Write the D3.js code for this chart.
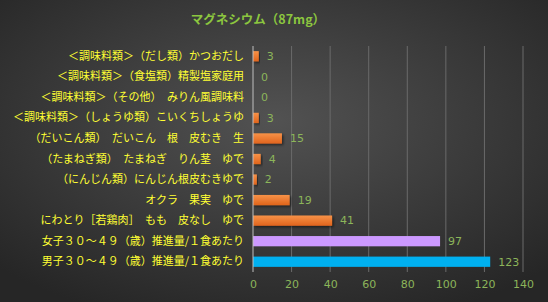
<!DOCTYPE html>
<html>
<head>
<meta charset="utf-8">
<script src="https://cdn.jsdelivr.net/npm/d3@7"></script>
<style>
  body { margin: 0; background: #2b2b2b; }
  svg { display: block; }
</style>
</head>
<body>
<div id="chart"></div>
<script>
const title = "マグネシウム（87mg）";
const categories = [
  "＜調味料類＞（だし類）かつおだし",
  "＜調味料類＞（食塩類）精製塩家庭用",
  "＜調味料類＞（その他）　みりん風調味料",
  "＜調味料類＞（しょうゆ類）こいくちしょうゆ",
  "（だいこん類）　だいこん　根　皮むき　生",
  "（たまねぎ類）　たまねぎ　りん茎　ゆで",
  "（にんじん類）にんじん根皮むきゆで",
  "オクラ　果実　ゆで",
  "にわとり［若鶏肉］　もも　皮なし　ゆで",
  "女子３０～４９（歳）推進量/１食あたり",
  "男子３０～４９（歳）推進量/１食あたり"
];
const values = [3, 0, 0, 3, 15, 4, 2, 19, 41, 97, 123];
const barColors = ["#f07a2c", "#f07a2c", "#f07a2c", "#f07a2c", "#f07a2c", "#f07a2c",
  "#f07a2c", "#f07a2c", "#f07a2c", "#cc99ff", "#00b0f0"];
const xTicks = [0, 20, 40, 60, 80, 100, 120, 140];

const width = 548, height = 302;
const margin = { top: 46, right: 25, bottom: 30, left: 253 };

const svg = d3.select("#chart").append("svg")
  .attr("width", width)
  .attr("height", height);

const defs = svg.append("defs");
const bg = defs.append("radialGradient").attr("id", "bg")
  .attr("cx", "50%").attr("cy", "40%").attr("r", "70%");
bg.append("stop").attr("offset", "0%").attr("stop-color", "#525252");
bg.append("stop").attr("offset", "100%").attr("stop-color", "#262626");

const og = defs.append("linearGradient").attr("id", "orange")
  .attr("x1", 0).attr("y1", 0).attr("x2", 0).attr("y2", 1);
og.append("stop").attr("offset", "0%").attr("stop-color", "#f79248");
og.append("stop").attr("offset", "100%").attr("stop-color", "#e0641c");

const shadow = defs.append("filter").attr("id", "shadow")
  .attr("x", "-10%").attr("y", "-30%").attr("width", "130%").attr("height", "180%");
shadow.append("feDropShadow")
  .attr("dx", 1.5).attr("dy", 1.5).attr("stdDeviation", 1)
  .attr("flood-color", "#000").attr("flood-opacity", 0.5);

svg.append("rect").attr("width", width).attr("height", height).attr("fill", "url(#bg)");

svg.append("text")
  .attr("x", 258).attr("y", 24)
  .attr("text-anchor", "middle")
  .attr("fill", "#8cc63f")
  .style("font-family", "'Noto Sans CJK JP', sans-serif")
  .style("font-size", "12.5px")
  .style("font-weight", "bold")
  .text(title);

const x = d3.scaleLinear()
  .domain([0, 140])
  .range([margin.left, width - margin.right]);

const y = d3.scaleBand()
  .domain(categories)
  .range([margin.top, height - margin.bottom])
  .paddingInner(0.5)
  .paddingOuter(0.25);

// gridlines
svg.append("g")
  .selectAll("line")
  .data(xTicks.slice(1))
  .join("line")
  .attr("x1", d => x(d)).attr("x2", d => x(d))
  .attr("y1", margin.top).attr("y2", height - margin.bottom)
  .attr("stroke", "#6a6a6a")
  .attr("stroke-width", 1);

// x axis labels
const xAxis = d3.axisBottom(x).tickValues(xTicks).tickSize(0).tickPadding(8);
const gx = svg.append("g")
  .attr("transform", `translate(0,${height - margin.bottom})`)
  .call(xAxis);
gx.select(".domain").remove();
gx.selectAll("text")
  .attr("fill", "#8cb55a")
  .style("font-family", "'DejaVu Sans', sans-serif")
  .style("font-size", "11px");

// bars
svg.append("g")
  .selectAll("rect")
  .data(values)
  .join("rect")
  .attr("x", x(0))
  .attr("y", (d, i) => y(categories[i]))
  .attr("width", d => x(d) - x(0))
  .attr("height", y.bandwidth())
  .attr("fill", (d, i) => i < 9 ? "url(#orange)" : barColors[i])
  .attr("filter", (d, i) => i < 9 ? "url(#shadow)" : null);

// y axis line
svg.append("line")
  .attr("x1", x(0)).attr("x2", x(0))
  .attr("y1", margin.top).attr("y2", height - margin.bottom)
  .attr("stroke", "#bfbfbf")
  .attr("stroke-width", 1);

// category labels
const yAxis = d3.axisLeft(y).tickSize(0).tickPadding(9);
const gy = svg.append("g")
  .attr("transform", `translate(${x(0)},0)`)
  .call(yAxis);
gy.select(".domain").remove();
gy.selectAll("text")
  .attr("fill", "#ffff33")
  .style("font-family", "'Noto Sans CJK JP', sans-serif")
  .style("font-size", "11px");

// value labels
svg.append("g")
  .selectAll("text")
  .data(values)
  .join("text")
  .attr("x", d => x(d) + 8)
  .attr("y", (d, i) => y(categories[i]) + y.bandwidth() / 2)
  .attr("dy", "0.35em")
  .attr("fill", "#8cb55a")
  .style("font-family", "'DejaVu Sans', sans-serif")
  .style("font-size", "11px")
  .text(d => d);
</script>
</body>
</html>
